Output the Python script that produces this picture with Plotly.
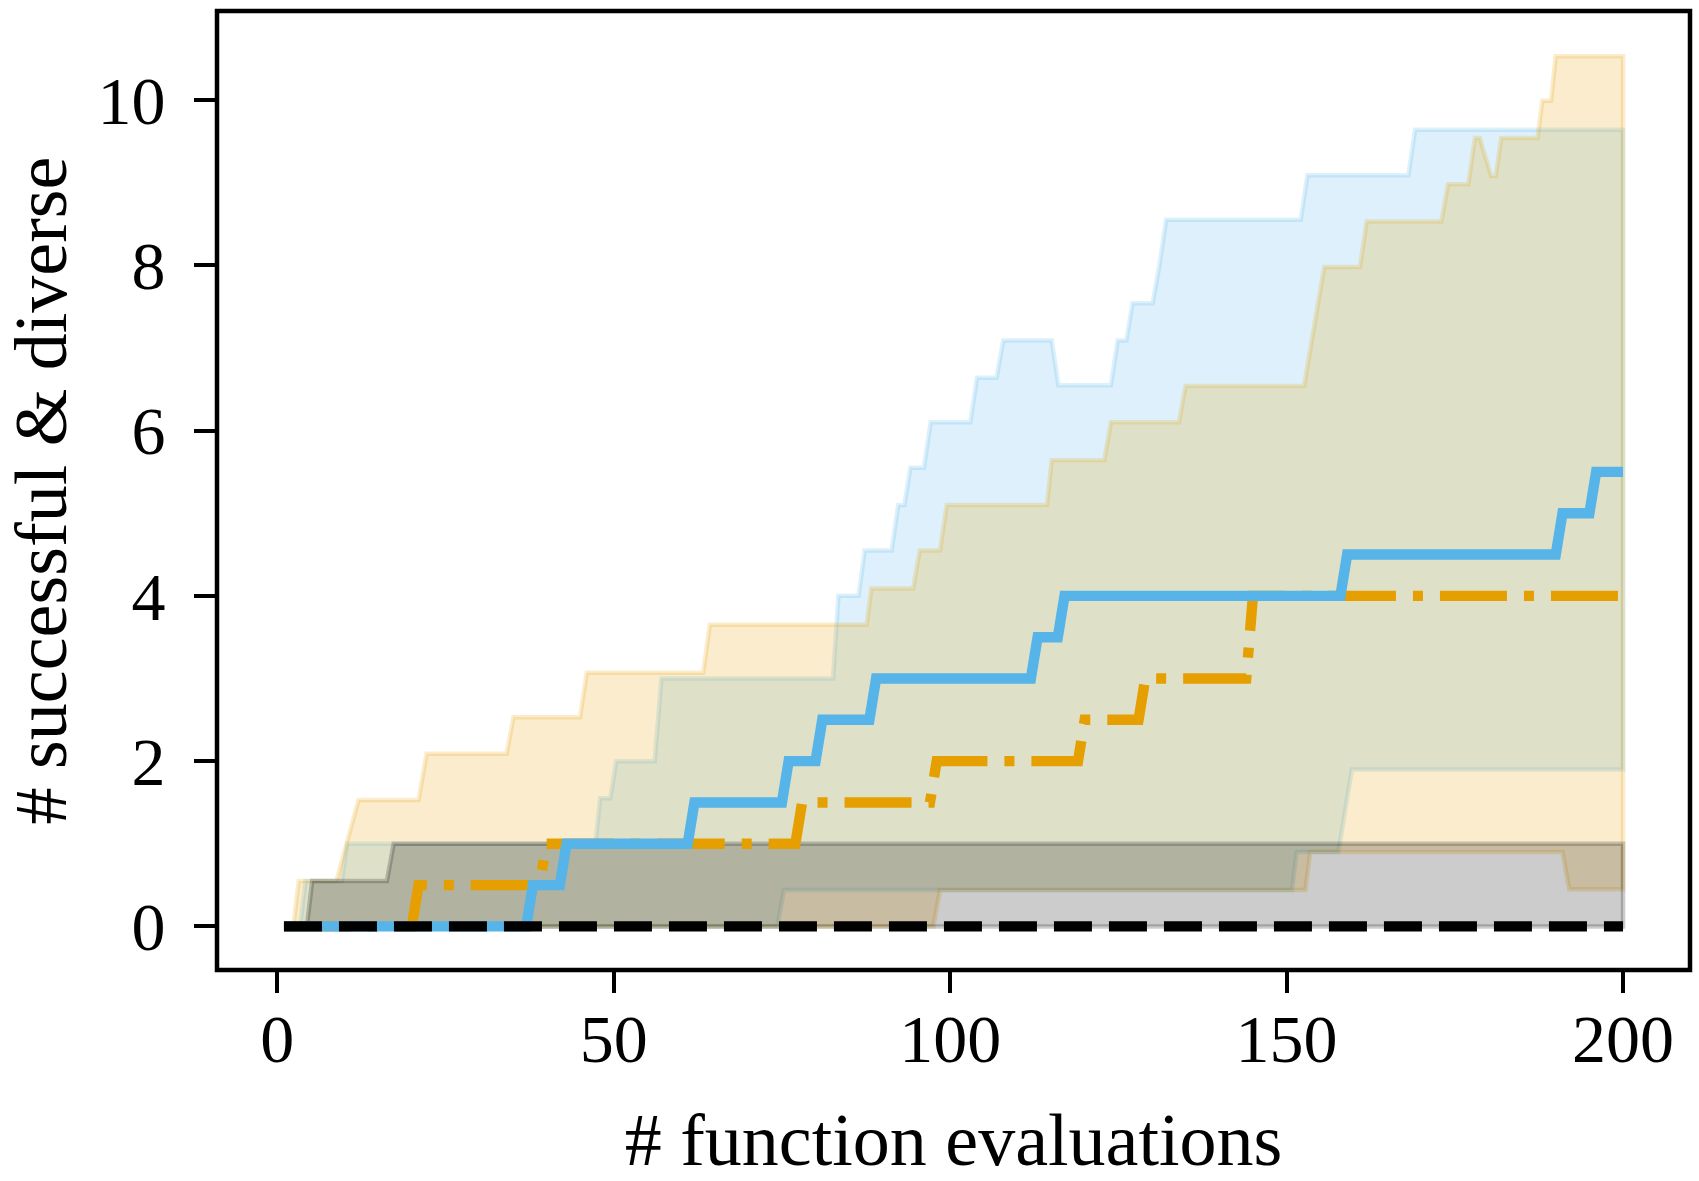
import plotly.graph_objects as go

# ---------------- data ----------------
x_start, x_end = 1, 200

# mean curves: evaluation at which the value changes, and new value
blue_change_x = [38, 43, 62, 76, 81, 89, 113, 117, 159, 191, 196]
blue_change_y = [0.5, 1.0, 1.5, 2.0, 2.5, 3.0, 3.5, 4.0, 4.5, 5.0, 5.5]

orange_change_x = [21, 40, 78, 98, 120, 129, 145]
orange_change_y = [0.5, 1.0, 1.5, 2.0, 2.5, 3.0, 4.0]

black_change_x = []
black_change_y = []

# band outlines (knots of the upper / lower boundaries)
blue_up_x = [1, 3.4, 4.2, 9.6, 10.4, 47.3, 48.0, 49.5, 50.4, 56.1, 57.1, 82.6, 83.4, 86.4, 87.3,
             91.3, 92.3, 93.2, 94.1, 96.1, 97.1, 103.0, 104.0, 106.9, 107.9, 115.1, 116.1,
             123.9, 124.9, 126.2, 127.1, 130.1, 131.1, 132.1, 152.1, 153.1, 168.1, 169.1, 200]
blue_up_y = [0, 0, 0.55, 0.55, 1.0, 1.0, 1.55, 1.55, 2.0, 2.0, 3.0, 3.0, 4.0, 4.0, 4.55,
             4.55, 5.1, 5.1, 5.55, 5.55, 6.1, 6.1, 6.64, 6.64, 7.09, 7.09, 6.55,
             6.55, 7.09, 7.09, 7.54, 7.54, 8.0, 8.55, 8.55, 9.09, 9.09, 9.64, 9.64]
blue_lo_x = [1, 74.3, 75.3, 150.8, 151.5, 157.7, 159.7, 200]
blue_lo_y = [0, 0, 0.44, 0.44, 0.9, 0.9, 1.9, 1.9]

orange_up_x = [1, 2.4, 3.2, 8.8, 10.3, 12.1, 21.0, 22.2, 34.1, 35.1, 45.0, 46.0, 63.3, 64.3,
               87.6, 88.3, 94.5, 95.5, 98.5, 99.5, 114.4, 115.1, 122.9, 123.9, 134.0, 135.0,
               152.6, 155.6, 160.9, 161.9, 173.0, 174.0, 177.0, 178.0, 178.7, 180.4, 181.1,
               181.9, 187.3, 188.0, 189.3, 190.0, 200]
orange_up_y = [0, 0, 0.55, 0.55, 1.0, 1.53, 1.53, 2.09, 2.09, 2.53, 2.53, 3.07, 3.07, 3.65,
               3.65, 4.09, 4.09, 4.55, 4.55, 5.1, 5.1, 5.64, 5.64, 6.1, 6.1, 6.54,
               6.54, 7.98, 7.98, 8.53, 8.53, 8.98, 8.98, 9.54, 9.54, 9.08, 9.08,
               9.54, 9.54, 9.99, 9.99, 10.53, 10.53]
orange_lo_x = [1, 97.5, 98.5, 152.8, 153.5, 191.0, 192.0, 200]
orange_lo_y = [0, 0, 0.44, 0.44, 0.9, 0.9, 0.45, 0.45]

black_up_x = [1, 4.4, 5.2, 16.3, 17.3, 200]
black_up_y = [0, 0, 0.55, 0.55, 1.0, 1.0]
black_lo_x = [1, 200]
black_lo_y = [0, 0]

x_ticks = [0, 50, 100, 150, 200]
y_ticks = [0, 2, 4, 6, 8, 10]

BLUE = (86, 180, 233)
ORANGE = (230, 159, 0)
BLACK = (0, 0, 0)

FONT = "Liberation Serif"


def rgba(c, a):
    return f"rgba({c[0]},{c[1]},{c[2]},{a})"


def step_knots(cx, cy):
    xs, ys = [x_start], [0.0]
    prev = 0.0
    for xc, yc in zip(cx, cy):
        xs += [xc - 1, xc]
        ys += [prev, yc]
        prev = yc
    xs.append(x_end)
    ys.append(prev)
    return xs, ys


fig = go.Figure()

# bands
for (ux, uy, lx, ly, col) in [
    (blue_up_x, blue_up_y, blue_lo_x, blue_lo_y, BLUE),
    (orange_up_x, orange_up_y, orange_lo_x, orange_lo_y, ORANGE),
    (black_up_x, black_up_y, black_lo_x, black_lo_y, BLACK),
]:
    px = list(ux) + list(reversed(lx)) + [ux[0]]
    py = list(uy) + list(reversed(ly)) + [uy[0]]
    fig.add_trace(go.Scatter(x=px, y=py, mode="lines", fill="toself",
                             fillcolor=rgba(col, 0.2),
                             line=dict(color=rgba(col, 0.2), width=4.5),
                             hoverinfo="skip", showlegend=False))

# mean lines
ox, oy = step_knots(orange_change_x, orange_change_y)
fig.add_trace(go.Scatter(x=ox, y=oy, mode="lines",
                         line=dict(color=rgba(ORANGE, 1), width=10.4,
                                   dash="67px,17px,10px,17px"),
                         showlegend=False))
bx, by = step_knots(blue_change_x, blue_change_y)
fig.add_trace(go.Scatter(x=bx, y=by, mode="lines",
                         line=dict(color=rgba(BLUE, 1), width=10.4),
                         showlegend=False))
kx, ky = step_knots(black_change_x, black_change_y)
fig.add_trace(go.Scatter(x=kx, y=ky, mode="lines",
                         line=dict(color="black", width=10.4, dash="38px,17px"),
                         showlegend=False))

axis_common = dict(
    showgrid=False, zeroline=False, showline=False,
    ticks="outside", ticklen=22, tickwidth=4,
    tickcolor="black", tickfont=dict(family=FONT, size=68, color="black"),
    automargin=False,
)

fig.update_layout(
    width=1699, height=1181,
    margin=dict(l=217, r=9, t=11, b=211),
    paper_bgcolor="white", plot_bgcolor="white",
    xaxis=dict(range=[-8.95, 209.95], tickvals=x_ticks,
               title=dict(text="# function evaluations",
                          font=dict(family=FONT, size=74, color="black"),
                          standoff=40),
               ticklabelstandoff=-13,
               **axis_common),
    yaxis=dict(range=[-0.5275, 11.0775], tickvals=y_ticks,
               title=dict(text="# successful & diverse",
                          font=dict(family=FONT, size=74, color="black"),
                          standoff=26),
               ticklabelstandoff=15,
               **axis_common),
    shapes=[dict(type="rect", xref="paper", yref="paper", x0=0, x1=1, y0=0, y1=1,
                 line=dict(color="black", width=4.5), layer="above")],
)

fig.write_html("out.html", config={"displayModeBar": False},
               post_script="document.body.style.margin='0px';")
